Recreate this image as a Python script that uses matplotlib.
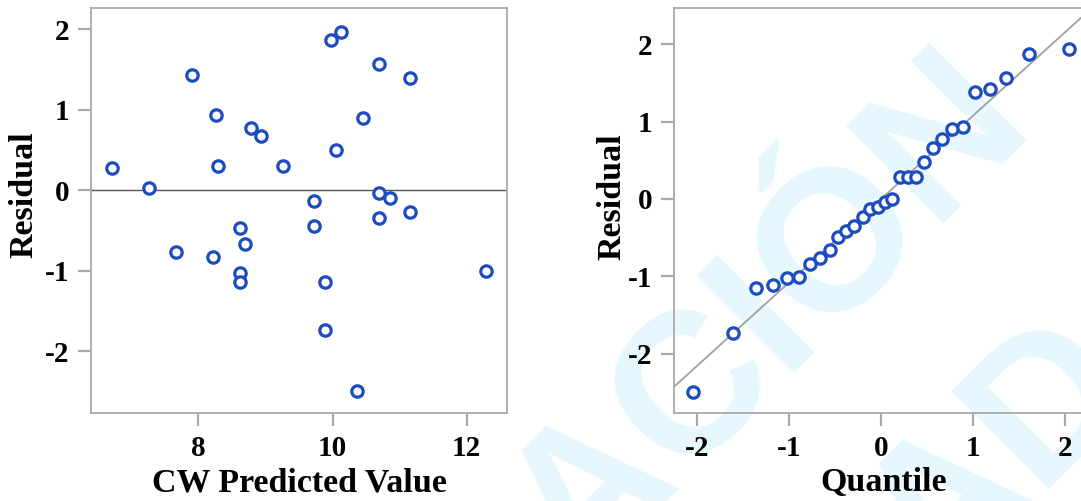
import matplotlib.pyplot as plt

# residuals vs predicted value (left panel)
pred = [6.71, 7.27, 7.91, 7.67, 8.26, 8.30, 8.22, 8.78, 8.94, 8.62,
        8.70, 8.62, 8.62, 9.26, 9.73, 9.73, 9.89, 9.89, 9.97, 10.13,
        10.05, 10.45, 10.37, 10.69, 10.69, 10.85, 10.69, 11.16, 11.16, 12.28]
resid = [0.27, 0.03, 1.43, -0.77, 0.93, 0.30, -0.83, 0.77, 0.67, -0.47,
         -0.67, -1.03, -1.14, 0.30, -0.13, -0.44, -1.14, -1.74, 1.87, 1.97,
         0.50, 0.90, -2.50, 1.57, -0.04, -0.10, -0.34, 1.40, -0.27, -1.00]

# normal Q-Q plot (right panel)
quant = [-2.04, -1.61, -1.36, -1.18, -1.02, -0.89, -0.77, -0.66, -0.56, -0.47,
         -0.38, -0.29, -0.20, -0.12, -0.04, 0.04, 0.12, 0.20, 0.29, 0.38,
         0.47, 0.56, 0.66, 0.77, 0.89, 1.02, 1.18, 1.36, 1.61, 2.04]
resid_sorted = [-2.50, -1.74, -1.15, -1.12, -1.02, -1.01, -0.84, -0.76, -0.66, -0.49,
                -0.41, -0.35, -0.24, -0.13, -0.10, -0.04, 0.00, 0.28, 0.28, 0.28,
                0.48, 0.66, 0.77, 0.91, 0.93, 1.38, 1.42, 1.56, 1.88, 1.94]
ref_slope = 1.08
ref_intercept = 0.0

blue = '#1c4cc0'
grey = '#a9a9a9'
wm = '#e6f8fe'

plt.rcParams['font.family'] = ['Liberation Serif', 'DejaVu Serif']
plt.rcParams['font.weight'] = 'bold'
plt.rcParams['axes.unicode_minus'] = False

fig = plt.figure(figsize=(10.81, 5.01), dpi=100)

# watermark in the background
fig.text(0.9556, 0.7585, 'PUBLICACIÓN', fontsize=144, color=wm, family='Liberation Sans',
         weight='bold', rotation=45, rotation_mode='anchor', ha='right', va='baseline', zorder=0)
fig.text(1.15, 0.42, 'ANTICIPADA', fontsize=144, color=wm, family='Liberation Sans',
         weight='bold', rotation=45, rotation_mode='anchor', ha='right', va='baseline', zorder=0)


def style(ax):
    ax.set_facecolor('none')
    ax.set_zorder(1)
    for s in ax.spines.values():
        s.set_color(grey)
        s.set_linewidth(1.3)
    ax.tick_params(length=9.5, width=1.6, color=grey, labelsize=21, pad=6)
    for lab in ax.get_xticklabels() + ax.get_yticklabels():
        lab.set_fontweight('bold')


ax1 = fig.add_axes([0.0842, 0.1756, 0.3848, 0.8084])
ax1.axhline(0, color='#555555', lw=1.0, zorder=1)
ax1.plot(pred, resid, 'o', ms=8.2, mfc='white', mec=blue, mew=2.3, zorder=3)
ax1.set_xlim(6.40, 12.60)
ax1.set_ylim(-2.77, 2.265)
ax1.set_xticks([8, 10, 12])
ax1.set_yticks([-2, -1, 0, 1, 2])
style(ax1)
ax1.set_xlabel('CW Predicted Value', fontsize=24.5, fontweight='bold', labelpad=4)
ax1.set_ylabel('Residual', fontsize=24.5, fontweight='bold')
ax1.yaxis.set_label_coords(-0.125, 0.54)

ax2 = fig.add_axes([0.6235, 0.1756, 0.3876, 0.8084])
xl = (-2.25, 2.3)
ax2.plot(xl, [ref_intercept + ref_slope * v for v in xl], color='#a0a0a0', lw=1.3, zorder=2)
ax2.plot(quant, resid_sorted, 'o', ms=8.2, mfc='white', mec=blue, mew=2.3, zorder=3)
ax2.set_xlim(*xl)
ax2.set_ylim(-2.77, 2.47)
ax2.set_xticks([-2, -1, 0, 1, 2])
ax2.set_yticks([-2, -1, 0, 1, 2])
style(ax2)
ax2.set_xlabel('Quantile', fontsize=24.5, fontweight='bold', labelpad=4)
ax2.set_ylabel('Residual', fontsize=24.5, fontweight='bold')
ax2.yaxis.set_label_coords(-0.11, 0.535)

fig.savefig('out.png', dpi=100)
